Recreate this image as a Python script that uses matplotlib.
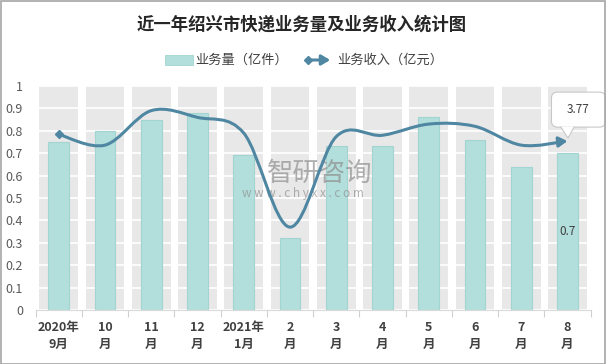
import numpy as np
import matplotlib
matplotlib.use("Agg")
import matplotlib.pyplot as plt
from matplotlib.path import Path
from matplotlib.patches import FancyArrowPatch, FancyBboxPatch, Polygon, Rectangle
from matplotlib.transforms import IdentityTransform

plt.rcParams['font.family'] = ['Noto Sans CJK SC', 'DejaVu Sans']

# data
months = ['2020年\n9月', '10\n月', '11\n月', '12\n月', '2021年\n1月', '2\n月',
          '3\n月', '4\n月', '5\n月', '6\n月', '7\n月', '8\n月']
volume = [0.75, 0.80, 0.85, 0.88, 0.69, 0.32, 0.73, 0.73, 0.86, 0.76, 0.64, 0.70]   # 亿件
income = [3.92, 3.68, 4.45, 4.30, 3.95, 1.85, 3.87, 3.90, 4.15, 4.10, 3.68, 3.77]   # 亿元
series_names = ['业务量（亿件）', '业务收入（亿元）']
title = '近一年绍兴市快递业务量及业务收入统计图'

bar_color = '#b2dfdb'
bar_edge = '#a2d5d1'
line_color = '#4f87a2'
band_color = '#e8e8e8'
text_color = '#404040'

W, H = 606, 364
fig = plt.figure(figsize=(W / 100, H / 100), dpi=100)
ax = fig.add_axes([35.6 / W, 1 - 310 / H, 555 / W, 224 / H])

x = np.arange(len(months))

# grey column bands + bars
ax.bar(x, 1.0, width=0.84, color=band_color, zorder=0)
ax.bar(x, volume, width=0.45, color=bar_color, edgecolor=bar_edge, linewidth=0.8, zorder=2)
ax.set_ylim(0, 1)
ax.set_xlim(-0.5, len(months) - 0.5)
ax.set_yticks(np.arange(0, 1.01, 0.1))
ax.set_yticklabels(['%g' % round(v, 1) for v in np.arange(0, 1.01, 0.1)])
ax.yaxis.grid(True, color='white', linewidth=1.2)
ax.set_axisbelow(True)
ax.tick_params(axis='y', length=0, pad=9, labelsize=9, labelcolor='#595959')

ax.set_xticks(np.arange(-0.5, len(months), 1))
ax.set_xticklabels([])
ax.tick_params(axis='x', which='major', length=5, color='#d0d0d0')
ax.set_xticks(x, minor=True)
ax.set_xticklabels(months, minor=True, fontsize=9, fontweight='bold',
                   color=text_color, linespacing=1.35)
ax.tick_params(axis='x', which='minor', length=0, pad=8)
for s in ['top', 'right', 'left']:
    ax.spines[s].set_visible(False)
ax.spines['bottom'].set_color('#d9d9d9')

# value label inside last bar
ax.text(x[-1], volume[-1] / 2, '%g' % volume[-1], ha='center', va='center',
        fontsize=8.5, color=text_color, zorder=4)

# watermark
ax.text(320 / W, 1 - 173 / H, '智研咨询', transform=fig.transFigure, ha='center',
        va='center', fontsize=19, color='#8f8f8f', alpha=0.7, zorder=3)
ax.text(303 / W, 1 - 193 / H, 'w w w . c h y x x . c o m', transform=fig.transFigure,
        ha='center', va='center', fontsize=8.5, color='#8f8f8f', alpha=0.7, zorder=3)

# income line on a hidden secondary axis, smoothed like excel
ax2 = ax.twinx()
ax2.set_ylim(0, 5)
ax2.axis('off')
ax2.set_xlim(ax.get_xlim())

pts = np.column_stack([x, income]).astype(float)
verts = [pts[0]]
codes = [Path.MOVETO]
n = len(pts)
for i in range(n - 1):
    p0 = pts[max(i - 1, 0)]
    p1 = pts[i]
    p2 = pts[i + 1]
    p3 = pts[min(i + 2, n - 1)]
    verts += [p1 + (p2 - p0) / 6, p2 - (p3 - p1) / 6, p2]
    codes += [Path.CURVE4] * 3
curve = Path(verts, codes)
arrow_style = '-|>,head_length=0.42,head_width=0.25'
ax2.add_patch(FancyArrowPatch(path=curve, arrowstyle=arrow_style,
                              mutation_scale=12, color=line_color, linewidth=2.2,
                              transform=ax2.transData, zorder=5))
ax2.plot(x[0], income[0], marker='D', markersize=4.5, color=line_color, zorder=6)

# callout for the last income value
fig.canvas.draw()
tx, ty = ax2.transData.transform((x[-1], income[-1]))
left, bottom, bw, bh = tx - 16, ty + 14, 54, 35
fig.add_artist(FancyBboxPatch((left, bottom), bw, bh, boxstyle='round,pad=0,rounding_size=6',
                              transform=IdentityTransform(), fc='white', ec='#c8c8c8', lw=0.8))
fig.add_artist(Polygon([(tx - 7, bottom + 0.6), (tx + 0.5, ty + 3), (tx + 7, bottom + 0.6)],
                       closed=False, transform=IdentityTransform(), fc='white',
                       ec='#c8c8c8', lw=0.8))
fig.text((left + bw / 2 - 0.5) / W, (bottom + bh / 2) / H, '%.2f' % income[-1],
         ha='center', va='center', fontsize=8.5, color=text_color)

# title
fig.text(302 / W, 1 - 25 / H, title, ha='center', va='center', fontsize=12.5,
         fontweight='bold', color='#262626')

# legend drawn by hand
ly = 1 - 60 / H
fig.add_artist(Rectangle((165 / W, ly - 5 / H), 28 / W, 10 / H, transform=fig.transFigure,
                         fc=bar_color, ec=bar_edge, lw=0.6))
fig.text(195 / W, ly, series_names[0], ha='left', va='center', fontsize=9.5, color=text_color)
fig.add_artist(FancyArrowPatch((308 / W, ly), (333 / W, ly), transform=fig.transFigure,
                               arrowstyle=arrow_style, mutation_scale=12,
                               color=line_color, lw=2.2))
fig.add_artist(plt.Line2D([308 / W], [ly], transform=fig.transFigure, marker='D',
                          markersize=4.5, color=line_color))
fig.text(337 / W, ly, series_names[1], ha='left', va='center', fontsize=9.5, color=text_color)

# outer frame
fig.add_artist(Rectangle((0.5 / W, 0.5 / H), 1 - 1.5 / W, 1 - 1.5 / H, transform=fig.transFigure,
                         fill=False, ec='#a6a6a6', lw=1.2))

fig.savefig('out.png', dpi=100)
